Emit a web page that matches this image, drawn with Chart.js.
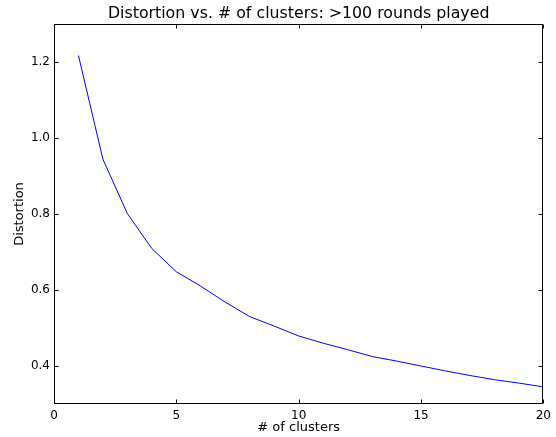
<!DOCTYPE html>
<html>
<head>
<meta charset="utf-8">
<script src="https://cdn.jsdelivr.net/npm/chart.js@4/dist/chart.umd.min.js"></script>
<style>
html,body{margin:0;padding:0;background:#fff;}
#wrap{width:556px;height:437px;position:relative;}
</style>
</head>
<body>
<div id="wrap"><canvas id="c" width="556" height="437"></canvas></div>
<script>
const clusters = [1,2,3,4,5,6,7,8,9,10,11,12,13,14,15,16,17,18,19,20];
const distortion = [1.217,0.944,0.801,0.709,0.648,0.610,0.568,0.530,0.505,0.479,0.460,0.443,0.425,0.413,0.400,0.387,0.375,0.364,0.355,0.345];
const xTicks = [0,5,10,15,20];
const yTicks = [0.4,0.6,0.8,1.0,1.2];
const titleText = 'Distortion vs. # of clusters: >100 rounds played';
const FONT = 'DejaVu Sans';

const framePlugin = {
  id:'frame',
  afterDraw(chart){
    const {ctx, chartArea:a, scales} = chart;
    ctx.save();
    ctx.strokeStyle = '#000';
    ctx.lineWidth = 1;
    ctx.beginPath();
    const L = Math.round(a.left)+0.5, R = Math.round(a.right)-0.5, T = Math.round(a.top)+0.5, B = Math.round(a.bottom)-0.5;
    ctx.rect(L, T, R-L, B-T);
    ctx.stroke();
    ctx.beginPath();
    const tl = 4;
    xTicks.forEach(v=>{
      const x = Math.round(scales.x.getPixelForValue(v))+0.5;
      ctx.moveTo(x,B); ctx.lineTo(x,B-tl);
      ctx.moveTo(x,T); ctx.lineTo(x,T+tl);
    });
    yTicks.forEach(v=>{
      const y = Math.round(scales.y.getPixelForValue(v))+0.5;
      ctx.moveTo(L,y); ctx.lineTo(L+tl,y);
      ctx.moveTo(R,y); ctx.lineTo(R-tl,y);
    });
    ctx.stroke();
    ctx.fillStyle = '#000';
    ctx.font = '15.8px "' + FONT + '"';
    ctx.textAlign = 'center';
    ctx.textBaseline = 'alphabetic';
    ctx.fillText(titleText, (a.left+a.right)/2, 18);
    ctx.restore();
  }
};

new Chart(document.getElementById('c'), {
  type:'line',
  data:{
    datasets:[{
      data: clusters.map((c,i)=>({x:c, y:distortion[i]})),
      borderColor:'#0000ff',
      borderWidth:1,
      pointRadius:0,
      fill:false,
      tension:0
    }]
  },
  options:{
    responsive:false,
    animation:false,
    devicePixelRatio:1,
    layout:{padding:{top:24,right:10,left:0,bottom:0}},
    plugins:{legend:{display:false},tooltip:{enabled:false},title:{display:false}},
    scales:{
      x:{
        type:'linear', min:0, max:20,
        afterBuildTicks(s){ s.ticks = xTicks.map(v=>({value:v})); },
        afterFit(s){ s.height = 33; },
        grid:{display:false, drawTicks:false},
        border:{display:false},
        ticks:{color:'#000', font:{family:FONT,size:12}, padding:5, maxRotation:0,
          callback:(v)=>String(v)},
        title:{display:true, text:'# of clusters', color:'#000', font:{family:FONT,size:13}, padding:{top:0,bottom:2}}
      },
      y:{
        type:'linear', min:0.3, max:1.3,
        afterBuildTicks(s){ s.ticks = yTicks.map(v=>({value:v})); },
        afterFit(s){ s.width = 54; },
        grid:{display:false, drawTicks:false},
        border:{display:false},
        ticks:{color:'#000', font:{family:FONT,size:12}, padding:4,
          callback:(v)=>Number(v).toFixed(1)},
        title:{display:true, text:'Distortion', color:'#000', font:{family:FONT,size:13}, padding:{top:12,bottom:4}}
      }
    }
  },
  plugins:[framePlugin]
});
</script>
</body>
</html>
